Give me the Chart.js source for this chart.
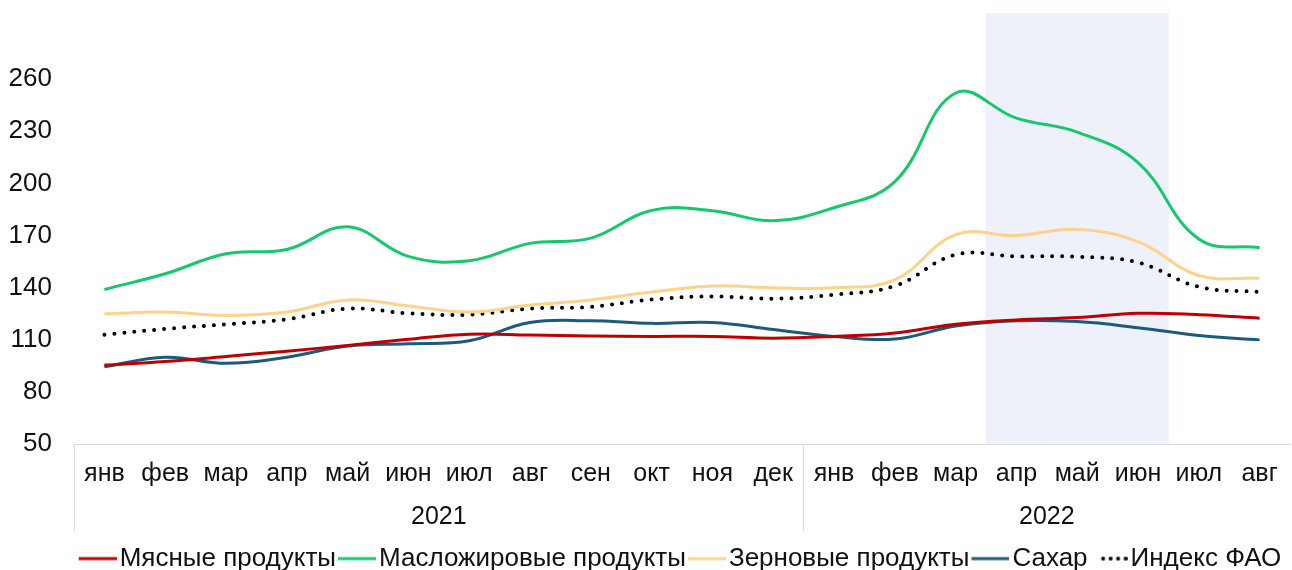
<!DOCTYPE html>
<html lang="ru">
<head>
<meta charset="utf-8">
<title>Индексы цен на продовольствие ФАО</title>
<script src="https://cdn.jsdelivr.net/npm/chart.js@4.4.1/dist/chart.umd.min.js"></script>
<style>
  html, body { margin: 0; padding: 0; background: #ffffff; }
  #wrap { width: 1292px; height: 570px; }
</style>
</head>
<body>
<div id="wrap"><canvas id="c" width="1292" height="570"></canvas></div>
<script>
// Months (2021: янв–дек, 2022: янв–авг)
const months = ['янв','фев','мар','апр','май','июн','июл','авг','сен','окт','ноя','дек',
                'янв','фев','мар','апр','май','июн','июл','авг'];
const years = ['2021', '2022'];
const yearCenters = [6, 16];      // middle of each year group, in month units
const yearBounds = [0, 12, 20];   // group boundaries, in month units
const yTicks = [50, 80, 110, 140, 170, 200, 230, 260];
const yMin = 50;
const yMax = 298;

const meat    = [95.5, 97.5, 100.5, 103.5, 106.8, 110.3, 113.3, 112.8, 112.2, 112.0, 112.0, 111.0,
                 112.0, 114.0, 119.0, 121.5, 122.8, 125.3, 124.5, 122.5];
const oils    = [139.0, 148.0, 159.5, 162.0, 175.0, 158.0, 155.5, 165.5, 168.5, 184.5, 184.3, 178.5,
                 186.0, 201.0, 252.0, 237.5, 229.5, 212.0, 168.0, 163.0];
const cereals = [125.0, 126.0, 124.0, 126.0, 133.0, 129.5, 126.0, 130.0, 133.0, 137.5, 141.0, 140.0,
                 140.0, 144.5, 170.5, 170.0, 173.5, 166.5, 147.0, 145.5];
const sugar   = [94.5, 100.0, 96.5, 100.0, 106.5, 107.8, 109.5, 120.0, 121.0, 119.5, 120.0, 116.0,
                 112.0, 110.5, 118.0, 121.0, 120.5, 117.0, 112.5, 110.0];
const fao     = [113.0, 116.3, 119.0, 121.8, 128.0, 125.3, 124.5, 128.0, 129.0, 133.2, 135.0, 133.7,
                 136.0, 141.0, 159.0, 158.0, 157.8, 154.5, 140.5, 137.5];
// shaded period: апр–июн 2022
const highlight = [null, null, null, null, null, null, null, null, null, null, null, null,
                   null, null, null, yMax, yMax, yMax, null, null];

const FONT = '"Liberation Sans", Arial, sans-serif';
const TEXT = '#111111';
const RULE = '#d9d9d9';
const LEG_SIZE = 26;

// Legend markers: a short line (or row of dots) that ends just before the label text
const BOX = 24;                          // legend box width
const REACH = BOX / 2 + LEG_SIZE / 2 - 3; // from box centre to line end
function marker(color, len, dotted) {
  const half = Math.max(REACH, len - REACH);
  const cv = document.createElement('canvas');
  cv.width = half * 2;
  cv.height = 8;
  const g = cv.getContext('2d');
  const end = half + REACH;
  const start = end - len;
  g.strokeStyle = color;
  g.fillStyle = color;
  if (dotted) {
    for (let k = 0; k < 4; k++) {
      g.beginPath();
      g.arc(end - 2 - k * 7.5, 4, 2, 0, Math.PI * 2);
      g.fill();
    }
  } else {
    g.lineWidth = 3;
    g.beginPath();
    g.moveTo(start, 4);
    g.lineTo(end, 4);
    g.stroke();
  }
  return cv;
}

function lineSet(label, data, color, extra) {
  return Object.assign({
    type: 'line',
    label: label,
    data: data,
    borderColor: color,
    backgroundColor: color,
    borderWidth: 3,
    pointRadius: 0,
    pointHoverRadius: 0,
    tension: 0.4,
    fill: false,
    order: 1,
    pointStyle: marker(color, 38, false)
  }, extra || {});
}

const datasets = [
  lineSet('Мясные продукты', meat, '#c00000'),
  lineSet('Масложировые продукты', oils, '#14c96b'),
  lineSet('Зерновые продукты', cereals, '#fdd38c'),
  lineSet('Сахар', sugar, '#1b5a7c'),
  lineSet('Индекс ФАО', fao, '#000000', {
    borderWidth: 4,
    borderDash: [0, 10],
    borderCapStyle: 'round',
    pointStyle: marker('#000000', 26, true)
  }),
  {
    type: 'bar',
    label: 'highlight',
    data: highlight,
    backgroundColor: '#eef1f9',
    borderWidth: 0,
    barPercentage: 1.0,
    categoryPercentage: 1.0,
    order: 10
  }
];

new Chart(document.getElementById('c'), {
  data: { labels: months, datasets: datasets },
  options: {
    responsive: false,
    animation: false,
    devicePixelRatio: 1,
    layout: { padding: { left: 0, right: 2, top: 13, bottom: -11.6 } },
    plugins: {
      tooltip: { enabled: false },
      legend: {
        position: 'bottom',
        fullSize: false,
        labels: {
          usePointStyle: true,
          pointStyleWidth: BOX,
          padding: 6,
          color: TEXT,
          font: { family: FONT, size: LEG_SIZE },
          filter: item => item.text !== 'highlight'
        }
      }
    },
    scales: {
      x: {
        type: 'category',
        position: 'bottom',
        weight: 0,
        offset: true,
        grid: {
          display: true,
          offset: true,
          drawOnChartArea: false,
          drawTicks: true,
          tickLength: 87,
          lineWidth: 1,
          color: ctx => yearBounds.includes(ctx.index) ? RULE : 'rgba(0,0,0,0)'
        },
        border: { display: true, color: RULE, width: 1 },
        ticks: {
          autoSkip: false,
          maxRotation: 0,
          padding: -72,
          color: TEXT,
          font: { family: FONT, size: 25 }
        },
        afterFit: s => { s.height = 42; }
      },
      x2: {
        type: 'linear',
        position: 'bottom',
        weight: 1,
        min: 0,
        max: 20,
        grid: { display: false, drawTicks: false },
        border: { display: false },
        afterBuildTicks: s => { s.ticks = yearCenters.map(v => ({ value: v })); },
        ticks: {
          autoSkip: false,
          maxRotation: 0,
          padding: 16,
          color: TEXT,
          font: { family: FONT, size: 25 },
          callback: (v, i) => years[i]
        },
        afterFit: s => { s.height = 53.4; }
      },
      y: {
        type: 'linear',
        position: 'left',
        min: yMin,
        max: yMax,
        grid: { display: false, drawTicks: false },
        border: { display: false },
        afterBuildTicks: s => { s.ticks = yTicks.map(v => ({ value: v })); },
        ticks: {
          padding: 22,
          color: TEXT,
          font: { family: FONT, size: 26 }
        },
        afterFit: s => { s.width = 74; s.paddingTop = 0; s.paddingBottom = 0; }
      }
    }
  }
});
</script>
</body>
</html>
